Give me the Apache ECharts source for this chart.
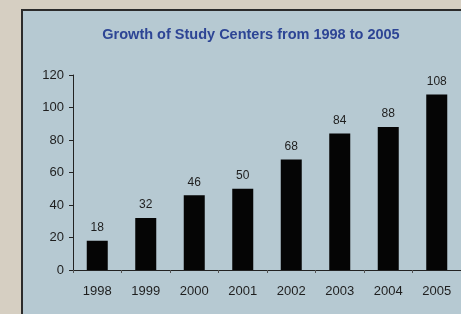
<!DOCTYPE html>
<html>
<head>
<meta charset="utf-8">
<script src="https://cdn.jsdelivr.net/npm/echarts@6/dist/echarts.min.js"></script>
<style>
html, body { margin: 0; padding: 0; background: #d6cfc2; }
#chart { width: 461px; height: 314px; }
</style>
</head>
<body>
<div id="chart"></div>
<script>
var years = ['1998', '1999', '2000', '2001', '2002', '2003', '2004', '2005'];
var centers = [18, 32, 46, 50, 68, 84, 88, 108];
var yTicks = [0, 20, 40, 60, 80, 100, 120];

var chart = echarts.init(document.getElementById('chart'));
var option = {
    backgroundColor: '#d6cfc2',
    animation: false,
    graphic: [
        {
            type: 'rect',
            z: -10,
            shape: { x: 22, y: 10, width: 460, height: 320 },
            style: { fill: '#b6c9d2', stroke: '#2b2b2b', lineWidth: 2 }
        }
    ],
    title: {
        text: 'Growth of Study Centers from 1998 to 2005',
        left: 246,
        textAlign: 'center',
        top: 22,
        textStyle: {
            color: '#2d4595',
            fontFamily: 'Liberation Sans',
            fontWeight: 'bold',
            fontSize: 14.5
        }
    },
    grid: {
        left: 73,
        right: -8,
        top: 75,
        bottom: 44,
        containLabel: false
    },
    xAxis: {
        type: 'category',
        data: years,
        axisLine: { lineStyle: { color: '#222', width: 1 } },
        axisTick: { show: true, length: 3, lineStyle: { color: '#555' } },
        axisLabel: {
            color: '#1e1e1e',
            fontFamily: 'Liberation Sans',
            fontSize: 13,
            margin: 15
        }
    },
    yAxis: {
        type: 'value',
        min: yTicks[0],
        max: yTicks[yTicks.length - 1],
        interval: 20,
        splitLine: { show: false },
        axisLine: { show: true, lineStyle: { color: '#222', width: 1 } },
        axisTick: { show: true, length: 4, lineStyle: { color: '#222' } },
        axisLabel: {
            color: '#1e1e1e',
            fontFamily: 'Liberation Sans',
            fontSize: 13,
            margin: 9
        }
    },
    series: [
        {
            type: 'bar',
            data: centers,
            barWidth: 21,
            itemStyle: { color: '#050505' },
            label: {
                show: true,
                position: 'top',
                distance: 7,
                color: '#1e1e1e',
                fontFamily: 'Liberation Sans',
                fontSize: 12
            }
        }
    ]
};
chart.setOption(option);
</script>
</body>
</html>
